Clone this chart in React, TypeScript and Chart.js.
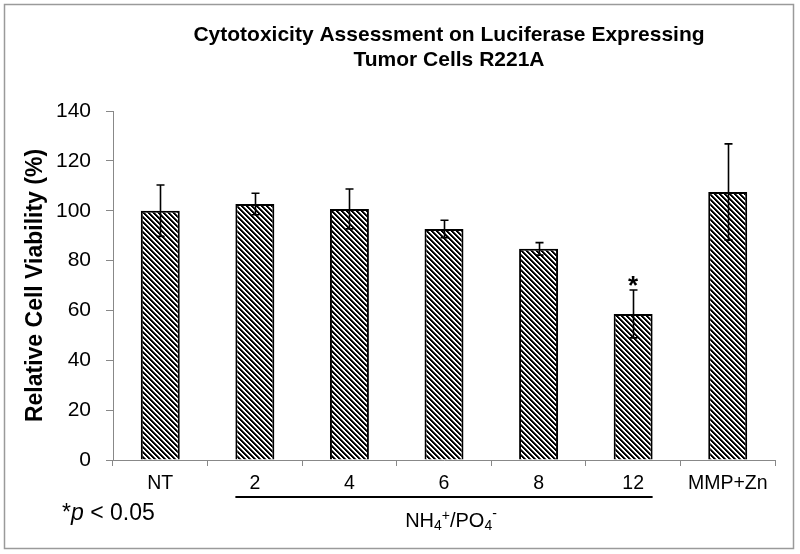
import React, { useEffect, useRef } from "react";
import { Chart, registerables } from "chart.js";

Chart.register(...registerables);

const categories = ["NT", "2", "4", "6", "8", "12", "MMP+Zn"];
const viability = [100, 102.7, 100.7, 92.7, 84.7, 58.6, 107.5];
const errors = [10.3, 4.3, 8.0, 3.5, 2.5, 9.6, 19.3];
const significant = [false, false, false, false, false, true, false];
const yTickMin = 0;
const yTickMax = 140;
const yTickStep = 20;
const titleLines = ["Cytotoxicity Assessment on Luciferase Expressing", "Tumor Cells R221A"];
const yAxisTitle = "Relative Cell Viability (%)";
const groupFirst = 1;
const groupLast = 5;

const FONT = "'Liberation Sans', Arial, Helvetica, sans-serif";

function makePattern(): CanvasPattern | string {
  const c = document.createElement("canvas");
  const P = 5;
  c.width = P;
  c.height = P;
  const g = c.getContext("2d");
  if (!g) return "#777";
  g.fillStyle = "#fff";
  g.fillRect(0, 0, P, P);
  for (let y = 0; y < P; y++) {
    for (let x = 0; x < P; x++) {
      const m = (((x - y) % P) + P) % P;
      if (m < 2) {
        g.fillStyle = "#000";
        g.fillRect(x, y, 1, 1);
      } else if (m === 2) {
        g.fillStyle = "#555";
        g.fillRect(x, y, 1, 1);
      }
    }
  }
  const ctx = document.createElement("canvas").getContext("2d");
  const pat = ctx ? ctx.createPattern(c, "repeat") : null;
  return pat || "#777";
}

const overlayPlugin = {
  id: "overlay",
  afterDatasetsDraw(chart: any) {
    const ctx = chart.ctx;
    const meta = chart.getDatasetMeta(0);
    const y = chart.scales.y;
    ctx.save();
    ctx.strokeStyle = "#000";
    ctx.lineWidth = 1.6;
    meta.data.forEach((bar: any, i: number) => {
      const x = Math.round(bar.x) + 0.5;
      const top = y.getPixelForValue(viability[i] + errors[i]);
      const bot = y.getPixelForValue(viability[i] - errors[i]);
      ctx.beginPath();
      ctx.moveTo(x, top);
      ctx.lineTo(x, bot);
      ctx.moveTo(x - 4, top);
      ctx.lineTo(x + 4, top);
      ctx.moveTo(x - 4, bot);
      ctx.lineTo(x + 4, bot);
      ctx.stroke();
      if (significant[i]) {
        ctx.fillStyle = "#000";
        ctx.font = `bold 26px ${FONT}`;
        ctx.textAlign = "center";
        ctx.textBaseline = "alphabetic";
        ctx.fillText("*", bar.x, top + 4);
      }
    });
    ctx.restore();
  },
  afterDraw(chart: any) {
    const ctx = chart.ctx;
    const meta = chart.getDatasetMeta(0);
    const area = chart.chartArea;
    ctx.save();
    // frame
    ctx.strokeStyle = "#9a9a9a";
    ctx.lineWidth = 1.5;
    ctx.strokeRect(4.5, 4.5, 789, 544);

    // title
    ctx.fillStyle = "#000";
    ctx.font = `bold 21px ${FONT}`;
    ctx.textAlign = "center";
    ctx.textBaseline = "alphabetic";
    const tx = 449;
    ctx.fillText(titleLines[0], tx, 41);
    ctx.fillText(titleLines[1], tx, 66);

    // y axis title
    ctx.save();
    ctx.translate(42, (area.top + area.bottom) / 2);
    ctx.rotate(-Math.PI / 2);
    ctx.font = `bold 23px ${FONT}`;
    ctx.textAlign = "center";
    ctx.textBaseline = "alphabetic";
    ctx.fillText(yAxisTitle, 0, 0);
    ctx.restore();

    // group underline
    const b1 = meta.data[groupFirst];
    const b2 = meta.data[groupLast];
    const x1 = b1.x - b1.width / 2;
    const x2 = b2.x + b2.width / 2;
    ctx.strokeStyle = "#000";
    ctx.lineWidth = 2;
    ctx.beginPath();
    ctx.moveTo(x1, 497);
    ctx.lineTo(x2, 497);
    ctx.stroke();

    // group label NH4+/PO4- (Excel-style sequential sub/superscripts)
    const big = `20px ${FONT}`;
    const small = `14px ${FONT}`;
    const base = 527;
    const parts: [string, string, number][] = [
      ["NH", big, 0],
      ["4", small, 3],
      ["+", small, -7],
      ["/PO", big, 0],
      ["4", small, 3],
      ["-", small, -9],
    ];
    let total = 0;
    parts.forEach((p) => {
      ctx.font = p[1];
      total += ctx.measureText(p[0]).width;
    });
    let cx = (x1 + x2) / 2 + 7 - total / 2;
    ctx.textAlign = "left";
    parts.forEach((p) => {
      ctx.font = p[1];
      ctx.fillText(p[0], cx, base + p[2]);
      cx += ctx.measureText(p[0]).width;
    });

    // p-value note
    let px = 62;
    const pb = 520;
    ctx.font = `23px ${FONT}`;
    ctx.fillText("*", px, pb);
    px += ctx.measureText("*").width;
    ctx.font = `italic 23px ${FONT}`;
    ctx.fillText("p", px, pb);
    px += ctx.measureText("p").width;
    ctx.font = `23px ${FONT}`;
    ctx.fillText(" < 0.05", px, pb);

    ctx.restore();
  },
};

export default function App() {
  const ref = useRef<HTMLCanvasElement | null>(null);

  useEffect(() => {
    document.body.style.margin = "0";
    const canvas = ref.current;
    if (!canvas) return;
    const pattern = makePattern();
    const chart = new Chart(canvas, {
      type: "bar",
      data: {
        labels: categories,
        datasets: [
          {
            data: viability,
            backgroundColor: pattern as any,
            borderColor: "#000",
            borderWidth: 2,
            barPercentage: 0.412,
            categoryPercentage: 1,
          },
        ],
      },
      options: {
        responsive: false,
        animation: false,
        devicePixelRatio: 1,
        layout: { padding: { top: 111, right: 25, left: 0, bottom: 0 } },
        plugins: {
          legend: { display: false },
          title: { display: false },
          tooltip: { enabled: false },
        },
        scales: {
          x: {
            offset: true,
            grid: {
              display: true,
              offset: true,
              drawOnChartArea: false,
              drawTicks: true,
              tickLength: 6,
              color: "#888",
            },
            border: { display: true, color: "#888", width: 1 },
            ticks: {
              color: "#000",
              font: { family: FONT, size: 19.5 },
              padding: 6,
              maxRotation: 0,
              autoSkip: false,
            },
            afterFit: (s: any) => {
              s.height = 94;
            },
          },
          y: {
            min: yTickMin,
            max: yTickMax,
            grid: {
              display: true,
              drawOnChartArea: false,
              drawTicks: true,
              tickLength: 7,
              color: "#888",
            },
            border: { display: true, color: "#888", width: 1 },
            ticks: {
              stepSize: yTickStep,
              color: "#000",
              font: { family: FONT, size: 21 },
              padding: 15,
            },
            afterFit: (s: any) => {
              s.width = 113;
            },
          },
        },
      },
      plugins: [overlayPlugin],
    });
    return () => {
      chart.destroy();
    };
  }, []);

  return (
    <div style={{ width: 800, height: 554, background: "#fff" }}>
      <canvas ref={ref} width={800} height={554} style={{ display: "block" }} />
    </div>
  );
}
